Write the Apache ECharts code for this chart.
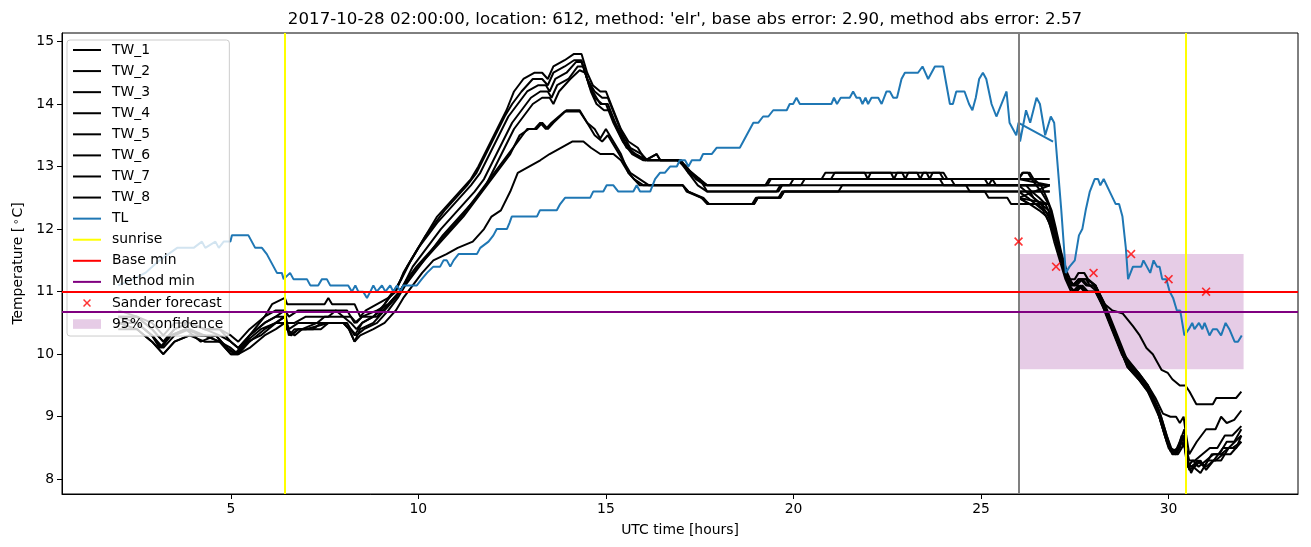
<!DOCTYPE html>
<html><head><meta charset="utf-8">
<script src="https://cdn.jsdelivr.net/npm/echarts@6/dist/echarts.min.js"></script>
<style>html,body{margin:0;padding:0;background:#fff}#c{width:1311px;height:547px}</style>
</head><body><div id="c"></div>
<script>
const xTicks=[5,10,15,20,25,30];
const yTicks=[8,9,10,11,12,13,14,15];
const sunriseHours=[6.44,30.45];
const baseMin=11.0;
const methodMin=10.68;
const forecastStart=26;
const sanderHours=[26,27,28,29,30,31];
const sanderTemps=[11.8,11.4,11.3,11.6,11.2,11.0];
const confStart=26, confEnd=32, confLow=9.76, confHigh=11.6;

const tw1=[[2.0,10.5],[2.5,10.5],[2.9,10.3],[3.15,10.1],[3.4,10.3],[3.8,10.4],[4.2,10.3],[4.6,10.3],[4.9,10.1],[5.1,10.0],[5.4,10.2],[5.8,10.4],[6.2,10.5],[6.44,10.6],[6.55,10.3],[6.7,10.4],[7.0,10.4],[7.6,10.5],[8.1,10.5],[8.3,10.3],[8.5,10.5],[8.8,10.6],[9.0,10.7],[9.2,10.9],[9.45,11.1],
[9.7,11.4],[9.9,11.6],[10.1,11.8],[10.3,12.0],[10.5,12.2],[10.8,12.4],[11.1,12.6],[11.4,12.8],[11.6,13.0],[11.85,13.3],[12.1,13.6],[12.35,13.9],[12.55,14.2],[12.8,14.4],[13.1,14.5],[13.3,14.5],[13.45,14.4],[13.6,14.6],[13.9,14.7],[14.15,14.8],[14.35,14.8],[14.5,14.5],[14.65,14.3],[14.85,14.2],[15.0,14.2],[15.2,13.9],[15.4,13.6],[15.6,13.4],[15.85,13.3],[16.05,13.1],[16.35,13.2],[16.45,13.1],[16.95,13.1],[17.15,13.0],[17.4,12.8],[17.65,12.7],[19.25,12.7],[19.35,12.8],[20.75,12.8],[20.85,12.9],[22.9,12.9],[22.98,12.8],[23.06,12.9],[23.55,12.9],[23.63,12.8],[23.71,12.9],[24.0,12.9],[24.1,12.8],[25.1,12.8],[25.2,12.7],[25.3,12.8],[26.83,12.8],
[26.0,12.8],[26.1,12.9],[26.25,12.9],[26.35,12.8],[26.6,12.6],[26.8,12.4],[26.9,12.2],[27.05,11.8],[27.2,11.4],[27.3,11.2],[27.5,11.2],[27.6,11.3],[27.75,11.3],[27.85,11.2],[28.05,11.1],[28.3,10.8],[28.5,10.5],[28.7,10.2],[28.9,9.9],[29.2,9.7],[29.45,9.5],[29.6,9.3],[29.75,9.1],[29.9,8.8],[30.05,8.5],[30.2,8.4],[30.35,8.7],[30.43,8.6],[30.5,8.2],[30.65,8.3],[30.8,8.2],[31.0,8.3],[31.2,8.4],[31.4,8.4],[31.6,8.5],[31.94,8.7]];

const tw2=[[2.0,10.6],[2.5,10.6],[2.9,10.4],[3.2,10.2],[3.5,10.4],[3.9,10.5],[4.3,10.4],[4.7,10.4],[5.0,10.2],[5.2,10.1],[5.5,10.3],[5.9,10.6],[6.1,10.8],[6.44,10.9],[6.5,10.8],[7.5,10.8],[7.6,10.9],[7.7,10.8],[8.3,10.8],[8.45,10.6],[8.6,10.7],[8.9,10.8],[9.2,10.9],[9.4,11.0],
[9.6,11.3],[9.8,11.5],[10.0,11.7],[10.2,11.9],[10.45,12.1],[10.7,12.3],[11.0,12.5],[11.3,12.7],[11.55,12.9],[11.8,13.2],[12.05,13.5],[12.3,13.8],[12.5,14.0],[12.75,14.2],[13.05,14.4],[13.3,14.4],[13.45,14.3],[13.6,14.5],[13.9,14.6],[14.15,14.7],[14.35,14.7],[14.5,14.4],[14.7,14.2],[14.9,14.1],[15.05,14.1],[15.25,13.8],[15.45,13.5],[15.65,13.3],[15.95,13.2],[16.1,13.1],[16.95,13.1],[17.2,12.9],[17.45,12.8],[17.7,12.7],[19.3,12.7],[19.4,12.8],[21.0,12.8],[21.1,12.9],[21.9,12.9],[21.98,12.8],[22.06,12.9],[22.6,12.9],[22.68,12.8],[22.76,12.9],[23.3,12.9],[23.38,12.8],[23.46,12.9],[23.9,12.9],[24.0,12.8],[25.3,12.8],[25.4,12.7],[26.83,12.7],
[26.0,12.8],[26.12,12.9],[26.3,12.9],[26.4,12.8],[26.6,12.7],[26.75,12.5],[26.88,12.3],[27.0,12.0],[27.15,11.6],[27.3,11.3],[27.45,11.1],[27.6,11.2],[27.8,11.2],[27.9,11.1],[28.1,11.0],[28.3,10.7],[28.5,10.4],[28.7,10.1],[28.9,9.8],[29.2,9.6],[29.45,9.4],[29.6,9.2],[29.75,9.0],[29.9,8.7],[30.05,8.45],[30.2,8.4],[30.3,8.5],[30.4,8.7],[30.45,8.5],[30.5,8.3],[30.6,8.2],[30.8,8.3],[31.0,8.2],[31.2,8.3],[31.45,8.5],[31.7,8.5],[31.94,8.6]];

const tw3=[[2.0,10.4],[2.5,10.4],[2.9,10.2],[3.2,10.0],[3.5,10.2],[3.9,10.3],[4.3,10.3],[4.7,10.2],[5.0,10.0],[5.2,10.0],[5.5,10.2],[5.9,10.4],[6.2,10.5],[6.44,10.6],[6.55,10.4],[6.8,10.5],[7.3,10.5],[7.5,10.6],[8.0,10.6],[8.2,10.5],[8.35,10.4],[8.5,10.5],[8.8,10.6],[9.1,10.8],[9.35,11.0],
[9.55,11.2],[9.8,11.5],[10.0,11.7],[10.25,11.9],[10.5,12.1],[10.8,12.3],[11.1,12.5],[11.4,12.7],[11.65,12.9],[11.9,13.2],[12.15,13.5],[12.4,13.8],[12.65,14.0],[12.9,14.2],[13.2,14.3],[13.4,14.3],[13.5,14.2],[13.65,14.4],[13.95,14.5],[14.2,14.67],[14.35,14.67],[14.5,14.4],[14.65,14.2],[14.85,14.0],[15.0,14.0],[15.2,13.7],[15.45,13.4],[15.7,13.2],[16.0,13.1],[16.9,13.1],[17.1,13.0],[17.3,12.9],[17.5,12.8],[17.7,12.6],[19.55,12.6],[19.65,12.7],[19.9,12.7],[20.0,12.8],[24.2,12.8],[24.3,12.7],[26.83,12.7],
[26.0,12.7],[26.2,12.7],[26.35,12.6],[26.55,12.5],[26.72,12.4],[26.87,12.2],[27.0,11.9],[27.15,11.5],[27.28,11.2],[27.45,11.0],[27.6,11.1],[27.75,11.0],[28.05,11.0],[28.3,10.7],[28.5,10.4],[28.7,10.1],[28.9,9.8],[29.2,9.6],[29.45,9.4],[29.65,9.2],[29.8,8.9],[29.95,8.6],[30.1,8.4],[30.25,8.4],[30.35,8.5],[30.43,8.6],[30.5,8.3],[30.6,8.1],[30.75,8.3],[30.95,8.2],[31.15,8.4],[31.35,8.4],[31.55,8.6],[31.75,8.6],[31.94,8.8]];

const tw4=[[2.0,10.5],[2.5,10.5],[2.9,10.3],[3.1,10.1],[3.4,10.3],[3.8,10.4],[4.2,10.2],[4.6,10.3],[4.9,10.1],[5.15,10.0],[5.45,10.2],[5.8,10.3],[6.2,10.5],[6.44,10.5],[6.6,10.3],[6.8,10.4],[7.2,10.4],[7.4,10.5],[8.0,10.5],[8.15,10.4],[8.3,10.2],[8.45,10.4],[8.8,10.5],[9.1,10.7],[9.4,10.9],
[9.6,11.1],[9.85,11.4],[10.1,11.6],[10.35,11.8],[10.6,12.0],[10.9,12.2],[11.2,12.4],[11.5,12.6],[11.75,12.8],[12.0,13.1],[12.25,13.4],[12.5,13.7],[12.75,13.9],[13.0,14.1],[13.25,14.2],[13.45,14.2],[13.55,14.1],[13.7,14.3],[14.0,14.4],[14.25,14.6],[14.4,14.6],[14.55,14.3],[14.7,14.1],[14.9,14.0],[15.05,14.0],[15.25,13.7],[15.5,13.4],[15.75,13.2],[16.05,13.1],[16.35,13.2],[16.45,13.1],[17.0,13.1],[17.2,12.9],[17.45,12.7],[17.7,12.6],[19.6,12.6],[19.7,12.7],[20.2,12.7],[20.3,12.8],[23.9,12.8],[24.0,12.7],[24.6,12.7],[24.7,12.6],[26.83,12.6],
[26.0,12.6],[26.3,12.6],[26.4,12.5],[26.6,12.4],[26.8,12.3],[26.92,12.0],[27.05,11.7],[27.2,11.4],[27.35,11.1],[27.5,11.0],[27.65,11.1],[27.8,11.0],[28.1,11.0],[28.35,10.6],[28.55,10.3],[28.75,10.0],[28.95,9.8],[29.25,9.6],[29.5,9.4],[29.65,9.2],[29.8,9.0],[29.95,8.7],[30.1,8.45],[30.25,8.5],[30.4,8.7],[30.46,8.4],[30.55,8.15],[30.7,8.2],[30.85,8.3],[31.0,8.15],[31.2,8.3],[31.4,8.3],[31.6,8.5],[31.8,8.5],[31.94,8.7]];

const tw5=[[2.0,10.6],[2.5,10.5],[2.9,10.3],[3.2,10.1],[3.5,10.3],[3.9,10.4],[4.3,10.3],[4.7,10.2],[5.0,10.1],[5.2,10.0],[5.5,10.3],[5.9,10.5],[6.2,10.6],[6.44,10.6],[6.5,10.4],[6.7,10.3],[6.9,10.4],[7.3,10.5],[8.0,10.5],[8.2,10.4],[8.35,10.3],[8.55,10.4],[8.9,10.5],[9.2,10.7],[9.45,10.9],
[9.65,11.1],[9.9,11.3],[10.15,11.5],[10.4,11.7],[10.65,11.9],[10.95,12.1],[11.25,12.3],[11.55,12.5],[11.8,12.7],[12.05,13.0],[12.3,13.3],[12.55,13.6],[12.8,13.8],[13.05,14.0],[13.3,14.1],[13.5,14.1],[13.6,14.0],[13.75,14.2],[14.05,14.4],[14.3,14.54],[14.45,14.5],[14.6,14.2],[14.75,14.0],[14.95,13.9],[15.1,13.9],[15.3,13.6],[15.55,13.3],[15.8,13.2],[16.1,13.1],[17.0,13.1],[17.25,12.9],[17.5,12.8],[17.7,12.7],[26.83,12.7],
[26.0,12.5],[26.3,12.4],[26.5,12.4],[26.7,12.3],[26.85,12.2],[26.95,11.9],[27.1,11.6],[27.25,11.3],[27.4,11.1],[27.55,11.1],[27.7,11.2],[27.85,11.1],[28.05,11.1],[28.25,10.8],[28.45,10.5],[28.65,10.2],[28.85,9.9],[29.15,9.7],[29.4,9.5],[29.55,9.3],[29.7,9.1],[29.85,8.8],[30.0,8.5],[30.15,8.4],[30.3,8.6],[30.42,8.8],[30.47,8.5],[30.55,8.3],[30.7,8.3],[30.9,8.4],[31.1,8.5],[31.3,8.5],[31.5,8.7],[31.7,8.7],[31.94,8.85]];

const tw6=[[2.0,10.7],[2.5,10.6],[2.9,10.5],[3.2,10.3],[3.5,10.5],[3.9,10.5],[4.3,10.4],[4.7,10.4],[5.0,10.3],[5.2,10.2],[5.5,10.4],[5.9,10.6],[6.2,10.7],[6.44,10.7],[6.55,10.6],[6.8,10.7],[7.8,10.7],[8.0,10.6],[8.2,10.6],[8.35,10.5],[8.5,10.6],[8.9,10.6],[9.2,10.8],[9.5,11.0],
[9.75,11.2],[10.0,11.4],[10.3,11.6],[10.6,11.8],[10.9,12.0],[11.2,12.2],[11.45,12.4],[11.7,12.6],[11.95,12.8],[12.2,13.0],[12.45,13.2],[12.7,13.5],[12.95,13.6],[13.15,13.6],[13.3,13.7],[13.45,13.6],[13.6,13.7],[13.95,13.9],[14.3,13.9],[14.5,13.7],[14.7,13.6],[14.85,13.45],[15.0,13.6],[15.2,13.4],[15.4,13.2],[15.6,12.9],[15.9,12.7],[17.05,12.7],[17.15,12.6],[17.55,12.5],[17.7,12.4],[18.95,12.4],[19.05,12.5],[19.65,12.5],[19.75,12.6],[21.2,12.6],[21.3,12.7],[26.83,12.7],
[26.0,12.7],[26.2,12.6],[26.4,12.5],[26.6,12.4],[26.8,12.2],[26.92,12.0],[27.05,11.7],[27.2,11.4],[27.32,11.2],[27.5,11.1],[27.65,11.2],[27.8,11.1],[28.0,11.1],[28.2,10.9],[28.4,10.6],[28.6,10.3],[28.8,10.0],[29.0,9.85],[29.2,9.7],[29.45,9.5],[29.65,9.3],[29.85,9.05],[30.05,9.0],[30.2,9.0],[30.3,8.9],[30.4,9.0],[30.47,8.7],[30.55,8.4],[30.75,8.6],[31.0,8.8],[31.25,8.8],[31.4,9.0],[31.55,8.9],[31.75,8.95],[31.94,9.1]];

const tw7=[[2.0,10.6],[2.5,10.6],[2.9,10.4],[3.2,10.2],[3.5,10.4],[3.9,10.5],[4.3,10.4],[4.7,10.3],[5.0,10.2],[5.2,10.1],[5.5,10.3],[5.9,10.5],[6.2,10.6],[6.44,10.7],[6.5,10.5],[6.7,10.5],[7.0,10.6],[7.6,10.6],[7.8,10.7],[8.1,10.7],[8.3,10.5],[8.5,10.6],[8.9,10.7],[9.2,10.8],[9.5,11.0],
[9.7,11.2],[9.95,11.4],[10.25,11.6],[10.55,11.8],[10.85,12.0],[11.15,12.2],[11.4,12.4],[11.65,12.6],[11.9,12.8],[12.15,13.0],[12.4,13.2],[12.65,13.4],[12.9,13.6],[13.1,13.6],[13.25,13.7],[13.4,13.6],[13.55,13.7],[13.9,13.88],[14.3,13.88],[14.5,13.7],[14.7,13.5],[14.9,13.4],[15.05,13.5],[15.25,13.3],[15.45,13.1],[15.65,12.9],[15.9,12.8],[16.15,12.7],[17.05,12.7],[17.2,12.6],[17.55,12.5],[17.75,12.4],[18.9,12.4],[19.0,12.5],[19.6,12.5],[19.7,12.6],[26.83,12.6],
[26.0,12.6],[26.25,12.5],[26.45,12.4],[26.65,12.3],[26.82,12.1],[26.95,11.8],[27.1,11.5],[27.25,11.2],[27.4,11.0],[27.55,11.0],[27.7,11.1],[27.85,11.0],[28.05,11.0],[28.3,10.7],[28.5,10.4],[28.7,10.1],[28.9,9.85],[29.2,9.65],[29.45,9.45],[29.6,9.25],[29.75,9.05],[29.9,8.75],[30.05,8.5],[30.2,8.45],[30.35,8.6],[30.43,8.5],[30.5,8.2],[30.65,8.2],[30.85,8.1],[31.05,8.3],[31.25,8.3],[31.45,8.4],[31.65,8.4],[31.94,8.6]];

const tw8=[[2.0,10.5],[2.5,10.4],[2.9,10.2],[3.2,10.0],[3.5,10.2],[3.9,10.3],[4.3,10.2],[4.7,10.2],[5.0,10.0],[5.2,10.0],[5.5,10.1],[5.9,10.3],[6.2,10.4],[6.44,10.5],[6.5,10.4],[6.6,10.3],[6.8,10.4],[7.4,10.4],[7.6,10.5],[8.0,10.5],[8.15,10.4],[8.3,10.2],[8.45,10.3],[8.8,10.4],[9.1,10.5],[9.4,10.7],
[9.6,10.9],[9.85,11.1],[10.1,11.3],[10.4,11.5],[10.75,11.6],[11.05,11.7],[11.45,11.8],[11.75,12.0],[11.95,12.2],[12.2,12.3],[12.45,12.6],[12.65,12.9],[12.95,13.0],[13.25,13.1],[13.5,13.2],[13.8,13.3],[14.1,13.4],[14.4,13.4],[14.6,13.3],[14.85,13.2],[15.2,13.2],[15.4,13.1],[15.6,12.9],[15.75,12.8],[16.0,12.7],[17.05,12.7],[17.2,12.6],[17.6,12.5],[17.75,12.4],[18.95,12.4],[19.05,12.5],[19.65,12.5],[19.75,12.6],[25.1,12.6],[25.2,12.5],[25.7,12.5],[25.8,12.4],[26.83,12.4],
[26.0,12.5],[26.3,12.4],[26.55,12.3],[26.75,12.2],[26.88,12.0],[27.0,11.8],[27.15,11.5],[27.3,11.2],[27.45,11.1],[27.6,11.2],[27.8,11.2],[28.05,11.1],[28.3,10.8],[28.5,10.7],[28.78,10.65],[29.05,10.45],[29.23,10.3],[29.41,10.1],[29.58,10.0],[29.81,9.75],[29.98,9.7],[30.1,9.6],[30.3,9.5],[30.45,9.5],[30.56,9.4],[30.74,9.2],[31.18,9.2],[31.27,9.3],[31.8,9.3],[31.94,9.4]];

const tl=[[2.0,11.1],[2.4,11.2],[2.72,11.3],[3.1,11.5],[3.57,11.7],[4.01,11.7],[4.23,11.8],[4.32,11.7],[4.59,11.8],[4.68,11.7],[4.81,11.8],[4.99,11.8],[5.03,11.9],[5.47,11.9],[5.65,11.7],[5.83,11.7],[5.96,11.6],[6.05,11.5],[6.23,11.3],[6.36,11.3],[6.41,11.2],[6.58,11.3],[6.67,11.2],[7.03,11.2],[7.12,11.1],[7.33,11.1],[7.43,11.2],[7.56,11.2],[7.65,11.1],[8.13,11.1],[8.23,11.0],[8.32,11.1],[8.40,11.0],[8.53,11.0],[8.63,10.9],[8.72,11.0],[8.80,11.1],[8.89,11.0],[9.03,11.1],[9.12,11.0],[9.25,11.1],[9.33,11.0],[9.43,11.1],[9.52,11.0],[9.60,11.1],[9.96,11.1],[10.09,11.2],[10.23,11.3],[10.40,11.4],[10.58,11.4],[10.67,11.5],[10.76,11.5],[10.85,11.4],[10.94,11.5],[11.07,11.6],[11.56,11.6],[11.65,11.7],[11.87,11.8],[12.0,11.9],[12.09,12.0],[12.36,12.0],[12.43,12.1],[12.49,12.2],[13.16,12.2],[13.24,12.3],[13.69,12.3],[13.78,12.4],[13.91,12.5],[14.58,12.5],[14.66,12.6],[14.93,12.6],[15.02,12.7],[15.20,12.7],[15.33,12.6],[15.73,12.6],[15.82,12.7],[15.91,12.6],[16.18,12.6],[16.31,12.8],[16.44,12.9],[16.57,12.9],[16.71,13.0],[16.89,13.0],[16.97,13.1],[17.11,13.1],[17.20,13.0],[17.29,13.1],[17.51,13.1],[17.59,13.2],[17.82,13.2],[17.95,13.3],[18.57,13.3],[18.66,13.4],[18.75,13.5],[18.84,13.6],[18.93,13.7],[19.06,13.7],[19.19,13.8],[19.33,13.8],[19.46,13.9],[19.82,13.9],[19.90,14.0],[19.99,14.0],[20.08,14.1],[20.17,14.0],[21.01,14.0],[21.08,14.1],[21.16,14.0],[21.26,14.1],[21.50,14.1],[21.59,14.2],[21.68,14.1],[21.77,14.1],[21.84,14.0],[21.92,14.1],[21.99,14.0],[22.08,14.1],[22.26,14.1],[22.35,14.0],[22.48,14.2],[22.57,14.2],[22.66,14.1],[22.76,14.1],[22.88,14.4],[22.97,14.5],[23.32,14.5],[23.44,14.6],[23.59,14.4],[23.77,14.6],[23.99,14.6],[24.17,14.0],[24.25,14.0],[24.34,14.2],[24.56,14.2],[24.68,14.0],[24.77,13.9],[24.86,14.1],[24.95,14.4],[25.05,14.5],[25.14,14.4],[25.28,14.0],[25.41,13.8],[25.68,14.2],[25.76,13.7],[25.94,13.5],[26.0,13.7],[26.92,13.4],
[26.0,13.7],[26.04,13.4],[26.2,13.9],[26.31,13.7],[26.48,14.1],[26.57,14.0],[26.71,13.5],[26.86,13.8],[26.95,13.7],[27.14,12.3],[27.26,11.3],[27.36,11.4],[27.50,11.5],[27.61,11.9],[27.70,12.0],[27.79,12.3],[27.90,12.6],[28.03,12.8],[28.12,12.8],[28.18,12.7],[28.27,12.8],[28.43,12.6],[28.59,12.4],[28.68,12.4],[28.77,12.2],[28.86,11.7],[28.92,11.2],[29.05,11.4],[29.14,11.4],[29.27,11.4],[29.33,11.5],[29.42,11.4],[29.51,11.3],[29.60,11.5],[29.69,11.4],[29.76,11.4],[29.83,11.2],[29.94,11.2],[30.03,11.0],[30.12,10.9],[30.22,10.7],[30.31,10.7],[30.42,10.3],[30.54,10.4],[30.63,10.5],[30.69,10.4],[30.81,10.5],[30.90,10.4],[30.96,10.5],[31.09,10.3],[31.18,10.4],[31.29,10.4],[31.40,10.3],[31.52,10.5],[31.62,10.4],[31.76,10.2],[31.85,10.2],[31.95,10.3]];

const FONT='DejaVu Sans';
const xPath='path://M0,1.3 L1.3,0 L5,3.7 L8.7,0 L10,1.3 L6.3,5 L10,8.7 L8.7,10 L5,6.3 L1.3,10 L0,8.7 L3.7,5 Z';
const xLegend='path://M-12.5,-3.75 M22.5,13.75 M0,1.3 L1.3,0 L5,3.7 L8.7,0 L10,1.3 L6.3,5 L10,8.7 L8.7,10 L5,6.3 L1.3,10 L0,8.7 L3.7,5 Z';
const rectLegend='path://M0,0 M28,14 M0,2.2 L28,2.2 L28,11.8 L0,11.8 Z';
const lineLegend='path://M0,0 M28,14 M0,6 L28,6 L28,8 L0,8 Z';

const twAll=[tw1,tw2,tw3,tw4,tw5,tw6,tw7,tw8];
const series=twAll.map((d,i)=>({
  name:'TW_'+(i+1),type:'line',data:d,symbol:'none',showSymbol:false,
  lineStyle:{color:'#000000',width:2},itemStyle:{color:'#000000'},z:2
}));
series.push({name:'TL',type:'line',data:tl,symbol:'none',showSymbol:false,
  lineStyle:{color:'#1f77b4',width:2},itemStyle:{color:'#1f77b4'},z:3,
  markLine:{silent:true,symbol:'none',label:{show:false},
    lineStyle:{color:'#808080',width:2,type:'solid'},data:[{xAxis:forecastStart}]}});
function refLine(name,color,data){
  return {name:name,type:'line',data:[],symbol:'none',
    lineStyle:{color:color,width:2},itemStyle:{color:color},z:4,
    markLine:{silent:true,symbol:'none',label:{show:false},animation:false,
      lineStyle:{color:color,width:2,type:'solid'},data:data}};
}
series.push(refLine('sunrise','#ffff00',sunriseHours.map(h=>({xAxis:h}))));
series.push(refLine('Base min','#ff0000',[{yAxis:baseMin}]));
series.push(refLine('Method min','#800080',[{yAxis:methodMin}]));
series.push({name:'Sander forecast',type:'scatter',symbol:xPath,symbolSize:9,
  data:sanderHours.map((h,i)=>[h,sanderTemps[i]]),itemStyle:{color:'#ff0000'},z:6});
series.push({name:'95% confidence',type:'bar',data:[],itemStyle:{color:'rgba(128,0,128,0.2)'},z:1,
  markArea:{silent:true,itemStyle:{color:'rgba(128,0,128,0.2)'},
    data:[[{xAxis:confStart,yAxis:confLow},{xAxis:confEnd,yAxis:confHigh}]]}});

const legendNames=['TW_1','TW_2','TW_3','TW_4','TW_5','TW_6','TW_7','TW_8','TL','sunrise','Base min','Method min'];
const legendData=legendNames.map(n=>({name:n,icon:lineLegend}));
legendData.push({name:'Sander forecast',icon:xLegend});
legendData.push({name:'95% confidence',icon:rectLegend});

const chart=echarts.init(document.getElementById('c'));
chart.setOption({
  animation:false,
  backgroundColor:'#ffffff',
  title:{text:"2017-10-28 02:00:00, location: 612, method: 'elr', base abs error: 2.90, method abs error: 2.57",
    left:680,textAlign:'center',top:6,
    textStyle:{fontFamily:FONT,fontSize:16.67,fontWeight:'normal',color:'#000'}},
  legend:{data:legendData,orient:'vertical',left:67,top:40,itemWidth:28,itemHeight:14,itemGap:7.08,
    selectedMode:false,padding:[3,6,5,6],backgroundColor:'rgba(255,255,255,0.8)',
    borderColor:'#cccccc',borderWidth:1,borderRadius:3,
    textStyle:{fontFamily:FONT,fontSize:13.9,color:'#000',lineHeight:14,padding:[0,0,0,6]}},
  grid:{left:62,right:13,top:33,bottom:53,show:true,borderColor:'#000',borderWidth:1,containLabel:false},
  xAxis:{type:'value',min:0.5,max:33.45,
    axisLine:{show:true,onZero:false,lineStyle:{color:'#000',width:1}},
    axisTick:{show:true,inside:false,length:5,lineStyle:{color:'#000',width:1},customValues:xTicks},
    axisLabel:{color:'#000',fontFamily:FONT,fontSize:13.9,margin:8,customValues:xTicks},
    splitLine:{show:false},
    name:'UTC time [hours]',nameLocation:'middle',nameGap:29,
    nameTextStyle:{fontFamily:FONT,fontSize:13.9,color:'#000'}},
  yAxis:{type:'value',min:7.765,max:15.135,
    axisLine:{show:true,onZero:false,lineStyle:{color:'#000',width:1}},
    axisTick:{show:true,inside:false,length:5,lineStyle:{color:'#000',width:1},customValues:yTicks},
    axisLabel:{color:'#000',fontFamily:FONT,fontSize:13.9,margin:8,customValues:yTicks},
    splitLine:{show:false},
    name:'Temperature [{d|\u2218}C]',nameLocation:'middle',nameGap:36,nameRotate:90,
    nameTextStyle:{fontFamily:FONT,fontSize:13.9,color:'#000',
      rich:{d:{fontFamily:FONT,fontSize:10,color:'#000',verticalAlign:'top',padding:[0,1,0,2]}}}},
  series:series
});
</script>
</body></html>
